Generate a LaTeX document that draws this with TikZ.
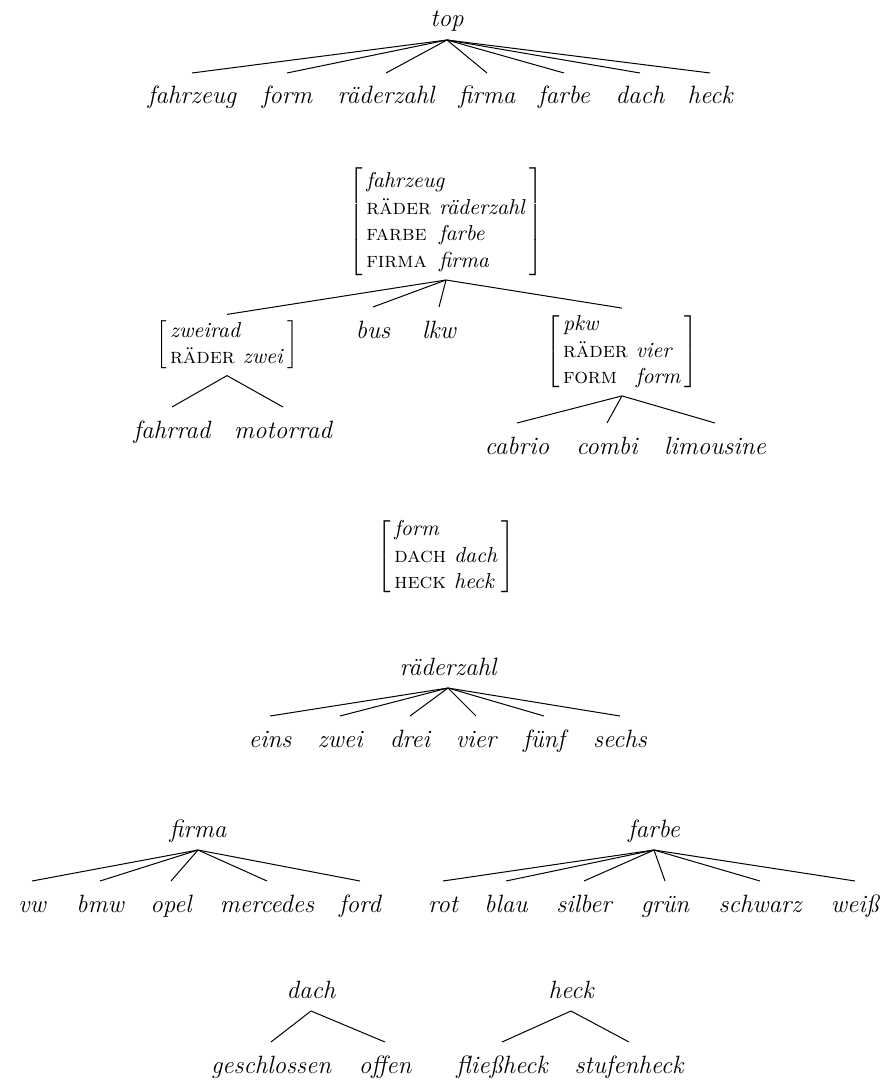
\documentclass[tikz,border=0pt]{standalone}
\usepackage{tikz}
\usetikzlibrary{positioning}
\newcommand{\labfont}{\fontsize{12.5}{15}\selectfont\itshape}
\newcommand{\avmfont}{\fontsize{10.8}{13.3}\selectfont}
\newcommand{\avm}[1]{$\left[\begin{tabular}{@{\,}l@{\hspace{4pt}}l@{\,}}#1\end{tabular}\right]$}
\newcommand{\att}[1]{\textsc{#1}}
\newcommand{\typ}[1]{\multicolumn{2}{@{\,}l}{\textit{#1}}}
\tikzset{lab/.style={font=\labfont, anchor=base, inner sep=0pt, outer sep=3.5pt, text height=12pt, text depth=3pt},
  avmnode/.style={font=\avmfont, inner sep=0pt, outer sep=2pt}}

\begin{document}
\begin{tikzpicture}[x=0.5pt, y=-0.5pt, line width=0.5pt]
    \useasboundingbox (0,0) rectangle (882,1081);
    % top
    \node[lab] (top) at (447,27) {top};
    \node[lab] (t-fz) at (192,104) {fahrzeug};
    \node[lab] (t-fo) at (287,104) {form};
    \node[lab] (t-rz) at (386,104) {räderzahl};
    \node[lab] (t-fi) at (487,104) {firma};
    \node[lab] (t-fa) at (564,104) {farbe};
    \node[lab] (t-da) at (640,104) {dach};
    \node[lab] (t-he) at (710,104) {heck};
    \draw (top.south) -- (t-fz.north);
    \draw (top.south) -- (t-fo.north);
    \draw (top.south) -- (t-rz.north);
    \draw (top.south) -- (t-fi.north);
    \draw (top.south) -- (t-fa.north);
    \draw (top.south) -- (t-da.north);
    \draw (top.south) -- (t-he.north);

    % fahrzeug
    \node[avmnode] (fz) at (446,222) {\avm{\typ{fahrzeug}\\ \att{räder} & \textit{räderzahl}\\ \att{farbe} & \textit{farbe}\\ \att{firma} & \textit{firma}}};
    \node[avmnode] (zr) at (227,345) {\avm{\typ{zweirad}\\ \att{räder} & \textit{zwei}}};
    \node[lab] (bus) at (373,338) {bus};
    \node[lab] (lkw) at (439,338) {lkw};
    \node[avmnode] (pkw) at (622,352) {\avm{\typ{pkw}\\ \att{räder} & \textit{vier}\\ \att{form} & \textit{form}}};
    \draw (fz.south) -- (zr.north);
    \draw (fz.south) -- (bus.north);
    \draw (fz.south) -- (lkw.north);
    \draw (fz.south) -- (pkw.north);
    \node[lab] (frad) at (172,438) {fahrrad};
    \node[lab] (mrad) at (283,438) {motorrad};
    \draw (zr.south) -- (frad.north);
    \draw (zr.south) -- (mrad.north);
    \node[lab] (cab) at (517,454) {cabrio};
    \node[lab] (com) at (607,454) {combi};
    \node[lab] (lim) at (715,454) {limousine};
    \draw (pkw.south) -- (cab.north);
    \draw (pkw.south) -- (com.north);
    \draw (pkw.south) -- (lim.north);

    % form
    \node[avmnode] (fo) at (446,557) {\avm{\typ{form}\\ \att{dach} & \textit{dach}\\ \att{heck} & \textit{heck}}};

    % raederzahl
    \node[lab] (rz) at (448,675) {räderzahl};
    \node[lab] (eins) at (270,747) {eins};
    \node[lab] (zwei) at (340,747) {zwei};
    \node[lab] (drei) at (410,747) {drei};
    \node[lab] (vier) at (476,747) {vier};
    \node[lab] (fuenf) at (544,747) {fünf};
    \node[lab] (sechs) at (620,747) {sechs};
    \draw (rz.south) -- (eins.north);
    \draw (rz.south) -- (zwei.north);
    \draw (rz.south) -- (drei.north);
    \draw (rz.south) -- (vier.north);
    \draw (rz.south) -- (fuenf.north);
    \draw (rz.south) -- (sechs.north);

    % firma
    \node[lab] (fi) at (198,837) {firma};
    \node[lab] (vw) at (32,912) {vw};
    \node[lab] (bmw) at (100,912) {bmw};
    \node[lab] (opel) at (171,912) {opel};
    \node[lab] (merc) at (267,912) {mercedes};
    \node[lab] (ford) at (360,912) {ford};
    \draw (fi.south) -- (vw.north);
    \draw (fi.south) -- (bmw.north);
    \draw (fi.south) -- (opel.north);
    \draw (fi.south) -- (merc.north);
    \draw (fi.south) -- (ford.north);

    % farbe
    \node[lab] (fa) at (654,837) {farbe};
    \node[lab] (rot) at (443,912) {rot};
    \node[lab] (blau) at (506,912) {blau};
    \node[lab] (silber) at (584,912) {silber};
    \node[lab] (gruen) at (665,912) {grün};
    \node[lab] (schwarz) at (760,912) {schwarz};
    \node[lab] (weiss) at (855,912) {weiß};
    \draw (fa.south) -- (rot.north);
    \draw (fa.south) -- (blau.north);
    \draw (fa.south) -- (silber.north);
    \draw (fa.south) -- (gruen.north);
    \draw (fa.south) -- (schwarz.north);
    \draw (fa.south) -- (weiss.north);

    % dach, heck
    \node[lab] (da) at (311,998) {dach};
    \node[lab] (geschl) at (271,1073) {geschlossen};
    \node[lab] (offen) at (385,1073) {offen};
    \draw (da.south) -- (geschl.north);
    \draw (da.south) -- (offen.north);
    \node[lab] (he) at (571,998) {heck};
    \node[lab] (fliess) at (502,1073) {fließheck};
    \node[lab] (stufen) at (629,1073) {stufenheck};
    \draw (he.south) -- (fliess.north);
    \draw (he.south) -- (stufen.north);
\end{tikzpicture}
\end{document}
